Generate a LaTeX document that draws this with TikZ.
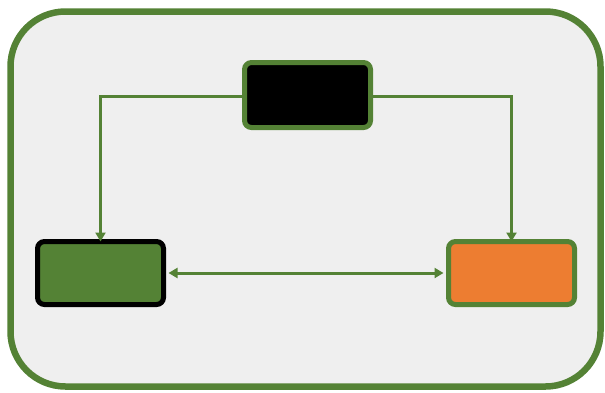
\documentclass[tikz,border=0pt]{standalone}
\usetikzlibrary{arrows.meta}
\definecolor{grn}{HTML}{548235}
\definecolor{org}{HTML}{ED7D31}
\definecolor{bg}{HTML}{EFEFEF}
\begin{document}
\begin{tikzpicture}[x=1pt,y=-1pt,
  boxstyle/.style={rounded corners=7pt, line width=5pt},
  conn/.style={draw=grn, line width=3pt, -{Triangle[length=9pt,width=10pt]}},
  biconn/.style={draw=grn, line width=3pt, {Triangle[length=9pt,width=10pt]}-{Triangle[length=9pt,width=10pt]}}]
\useasboundingbox (0,0) rectangle (605,392);
\fill[white] (0,0) rectangle (605,392);
\draw[draw=grn, fill=bg, line width=6.5pt, rounded corners=55pt] (10.5,11.5) rectangle (600.5,386.5);
\node[boxstyle, draw=grn, fill=black, minimum width=126pt, minimum height=65pt, inner sep=0pt] (top) at (307.5,95) {};
\node[boxstyle, draw=black, fill=grn, minimum width=126pt, minimum height=63pt, inner sep=0pt] (left) at (100.5,273) {};
\node[boxstyle, draw=grn, fill=org, minimum width=126pt, minimum height=63pt, inner sep=0pt] (right) at (511.5,273) {};
\draw[conn] (top.west |- 0,96.5) -| ([yshift=-2.5pt]left.north);
\draw[conn] (top.east |- 0,96.5) -| ([yshift=-2.5pt]right.north);
\draw[biconn] ([xshift=2.5pt]left.east) -- ([xshift=-2.5pt]right.west);
\end{tikzpicture}
\end{document}
